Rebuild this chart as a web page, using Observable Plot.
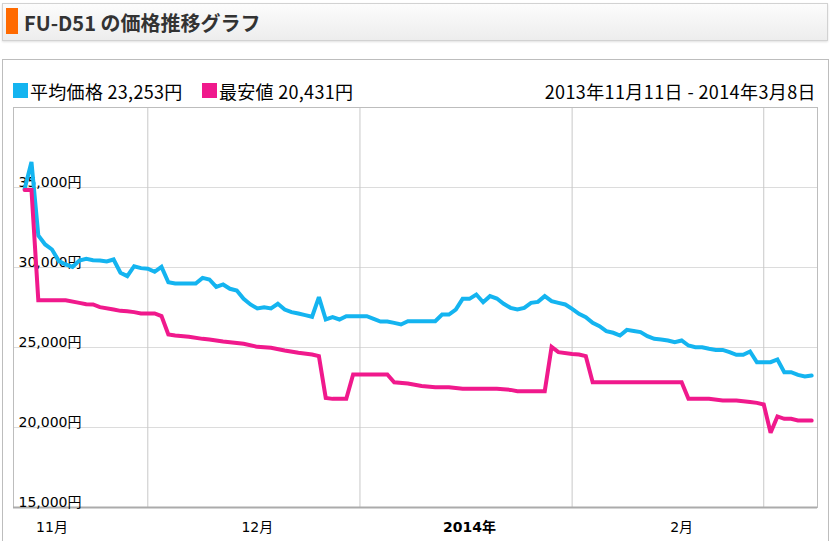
<!DOCTYPE html>
<html>
<head>
<meta charset="utf-8">
<script src="https://cdn.jsdelivr.net/npm/d3@7"></script>
<script src="https://cdn.jsdelivr.net/npm/@observablehq/plot@0.6"></script>
<style>
  html, body { margin: 0; padding: 0; }
  body { width: 832px; height: 541px; overflow: hidden; background: #fff; position: relative;
         font-family: "Noto Sans CJK JP", "Noto Sans", sans-serif; }
  #header { position: absolute; left: 2px; top: 3px; width: 826px; height: 38px; box-sizing: border-box;
            border: 1px solid #d2d2d2; background: linear-gradient(#fcfcfc, #ededed);
            box-shadow: 0 1px 2px rgba(0,0,0,0.12); }
  #bar { position: absolute; left: 6px; top: 8px; width: 12px; height: 26px; background: #ff6a00; }
  #title { position: absolute; left: 24px; top: 13px; font-size: 20px; line-height: 20px; font-weight: bold; color: #333; white-space: nowrap; }
  #panel { position: absolute; left: 2px; top: 59px; width: 827px; height: 500px; box-sizing: border-box; border: 1px solid #bdbdbd; }
  .legend { position: absolute; top: 82px; font-size: 18px; line-height: 18px; color: #000; white-space: nowrap; letter-spacing: 0.3px; }
  .sw { display: inline-block; width: 15px; height: 15px; vertical-align: top; margin-top: 1px; margin-right: 2px; }
  #range { position: absolute; top: 82px; right: 16px; font-size: 18px; line-height: 18px; color: #000; white-space: nowrap; letter-spacing: 0.4px; }
  #chart { position: absolute; left: 0; top: 100px; }
</style>
</head>
<body>
<div id="header"></div>
<div id="bar"></div>
<div id="title">FU-D51 の価格推移グラフ</div>
<div id="panel"></div>
<div class="legend" id="leg1" style="left:13px"></div>
<div class="legend" id="leg2" style="left:202px"></div>
<div id="range"></div>
<div id="chart"></div>
<script>
// ---- data ----
const seriesNames = ["平均価格", "最安値"];
const seriesColors = ["#14b4f0", "#f0198c"];
const latestValues = [23253, 20431];
const rangeText = "2013年11月11日 - 2014年3月8日";

const avgDates = [
  "2013-11-13","2013-11-14","2013-11-15","2013-11-16","2013-11-17","2013-11-18","2013-11-19","2013-11-20",
  "2013-11-21","2013-11-22","2013-11-23","2013-11-24","2013-11-25","2013-11-26","2013-11-27","2013-11-28",
  "2013-11-29","2013-11-30","2013-12-01","2013-12-02","2013-12-03","2013-12-04","2013-12-05","2013-12-08",
  "2013-12-09","2013-12-10","2013-12-11","2013-12-12","2013-12-13","2013-12-14","2013-12-15","2013-12-16",
  "2013-12-17","2013-12-18","2013-12-19","2013-12-20","2013-12-21","2013-12-22","2013-12-23","2013-12-24",
  "2013-12-25","2013-12-26","2013-12-27","2013-12-28","2013-12-29","2013-12-30","2014-01-02","2014-01-03",
  "2014-01-04","2014-01-05","2014-01-06","2014-01-07","2014-01-08","2014-01-12","2014-01-13","2014-01-14",
  "2014-01-15","2014-01-16","2014-01-17","2014-01-18","2014-01-19","2014-01-20","2014-01-21","2014-01-22",
  "2014-01-23","2014-01-24","2014-01-25","2014-01-26","2014-01-27","2014-01-28","2014-01-29","2014-01-30",
  "2014-01-31","2014-02-01","2014-02-02","2014-02-03","2014-02-04","2014-02-05","2014-02-06","2014-02-07",
  "2014-02-08","2014-02-09","2014-02-10","2014-02-11","2014-02-12","2014-02-13","2014-02-14","2014-02-15",
  "2014-02-16","2014-02-17","2014-02-18","2014-02-19","2014-02-20","2014-02-21","2014-02-22","2014-02-23",
  "2014-02-24","2014-02-25","2014-02-26","2014-02-27","2014-02-28","2014-03-02","2014-03-03","2014-03-04",
  "2014-03-05","2014-03-06","2014-03-07","2014-03-08"
];
const avgPrices = [
  34900,36600,32000,31440,31125,30400,30190,30040,
  30440,30540,30460,30440,30375,30500,29670,29460,
  30080,29960,29920,29730,30040,29080,29000,29000,
  29350,29250,28790,28940,28670,28560,28040,27690,
  27440,27520,27440,27730,27375,27210,27125,27020,
  26920,28150,26750,26900,26750,26960,26960,26790,
  26625,26625,26540,26440,26640,26640,27060,27060,
  27375,28040,28040,28310,27830,28210,28060,27730,
  27480,27375,27480,27790,27850,28210,27900,27790,
  27690,27420,27100,26900,26540,26330,26020,25920,
  25750,26100,26030,25960,25710,25540,25500,25440,
  25330,25440,25125,25020,25020,24920,24850,24850,
  24710,24540,24540,24750,24080,24080,24250,23460,
  23460,23290,23190,23253
];

const minDates = [
  "2013-11-13","2013-11-14","2013-11-15","2013-11-19","2013-11-21","2013-11-22","2013-11-23","2013-11-24",
  "2013-11-26","2013-11-27","2013-11-28","2013-11-29","2013-11-30","2013-12-02","2013-12-03","2013-12-04",
  "2013-12-05","2013-12-07","2013-12-09","2013-12-10","2013-12-12","2013-12-13","2013-12-15","2013-12-17",
  "2013-12-19","2013-12-21","2013-12-23","2013-12-25","2013-12-26","2013-12-27","2013-12-28","2013-12-30",
  "2013-12-31","2014-01-05","2014-01-06","2014-01-08","2014-01-10","2014-01-12","2014-01-14","2014-01-16",
  "2014-01-21","2014-01-23","2014-01-24","2014-01-28","2014-01-29","2014-01-30","2014-02-01","2014-02-02",
  "2014-02-03","2014-02-04","2014-02-17","2014-02-18","2014-02-21","2014-02-23","2014-02-25","2014-02-27",
  "2014-02-28","2014-03-01","2014-03-02","2014-03-03","2014-03-04","2014-03-05","2014-03-06","2014-03-08"
];
const minPrices = [
  34850,34850,27950,27950,27790,27700,27690,27520,
  27375,27290,27270,27210,27125,27125,26960,25810,
  25750,25670,25540,25500,25380,25330,25230,25040,
  24980,24810,24670,24560,24460,21850,21790,21790,
  23310,23310,22830,22750,22600,22520,22520,22420,
  22420,22350,22270,22270,25040,24710,24600,24560,
  24460,22830,22830,21790,21790,21690,21690,21600,
  21540,21440,19670,20690,20540,20540,20440,20431
];

const yTicks = [15000, 20000, 25000, 30000, 35000];
const yGridLines = [20000, 25000, 30000, 35000];
const monthStarts = ["2013-12-01", "2014-01-01", "2014-02-01", "2014-03-01"];
const xTickDates = ["2013-11-17", "2013-12-17", "2014-01-17", "2014-02-17"];
const xTickLabels = ["11月", "12月", "2014年", "2月"];
const xTickBold = [false, false, true, false];

// ---- build ----
const parse = d3.timeParse("%Y-%m-%d");
const avg = avgDates.map((d, i) => ({date: parse(d), price: avgPrices[i]}));
const low = minDates.map((d, i) => ({date: parse(d), price: minPrices[i]}));
const fmt = d3.format(",");

const legendFmt = v => fmt(v) + "円";
document.getElementById("leg1").innerHTML =
  `<span class="sw" style="background:${seriesColors[0]}"></span>${seriesNames[0]} ${legendFmt(latestValues[0])}`;
document.getElementById("leg2").innerHTML =
  `<span class="sw" style="background:${seriesColors[1]}"></span>${seriesNames[1]} ${legendFmt(latestValues[1])}`;
document.getElementById("range").textContent = rangeText;

const tickDates = xTickDates.map(parse);
const labelOf = new Map(tickDates.map((d, i) => [d.getTime(), xTickLabels[i]]));
const normalTicks = tickDates.filter((d, i) => !xTickBold[i]);
const boldTicks = tickDates.filter((d, i) => xTickBold[i]);

const plot = Plot.plot({
  width: 832,
  height: 441,
  marginTop: 7,
  marginBottom: 34,
  marginLeft: 13,
  marginRight: 15,
  x: {type: "time", domain: [new Date(2013, 10, 11, 9), new Date(2014, 2, 8, 20, 30)], label: null},
  y: {domain: [15000, 40000], axis: null, label: null},
  style: {fontFamily: "'DejaVu Sans', 'Noto Sans CJK JP', sans-serif", fontSize: "14px", color: "#000", background: "transparent", overflow: "visible"},
  marks: [
    Plot.gridY(yGridLines, {stroke: "#dcdcdc", strokeOpacity: 1}),
    Plot.gridX(monthStarts.map(parse), {stroke: "#c8c8c8", strokeOpacity: 1}),
    Plot.frame({stroke: "#bdbdbd"}),
    Plot.ruleY([15000], {stroke: "#ababab", strokeWidth: 2}),
    Plot.text(yTicks, {y: d => d, text: d => fmt(d) + "円", frameAnchor: "left", textAnchor: "start", lineAnchor: "bottom", dx: 5, dy: -1, fill: "#000", fontSize: 14}),
    Plot.axisX(normalTicks, {tickSize: 0, tickPadding: 15, tickFormat: d => labelOf.get(d.getTime()), fontSize: 14, fill: "#000"}),
    Plot.axisX(boldTicks, {tickSize: 0, tickPadding: 15, tickFormat: d => labelOf.get(d.getTime()), fontSize: 14, fontWeight: "bold", fill: "#000"}),
    Plot.line(avg, {x: "date", y: "price", stroke: seriesColors[0], strokeWidth: 4, strokeLinejoin: "miter", strokeMiterlimit: 3}),
    Plot.line(low, {x: "date", y: "price", stroke: seriesColors[1], strokeWidth: 4, strokeLinejoin: "miter", strokeMiterlimit: 3})
  ]
});
document.getElementById("chart").appendChild(plot);
</script>
</body>
</html>
